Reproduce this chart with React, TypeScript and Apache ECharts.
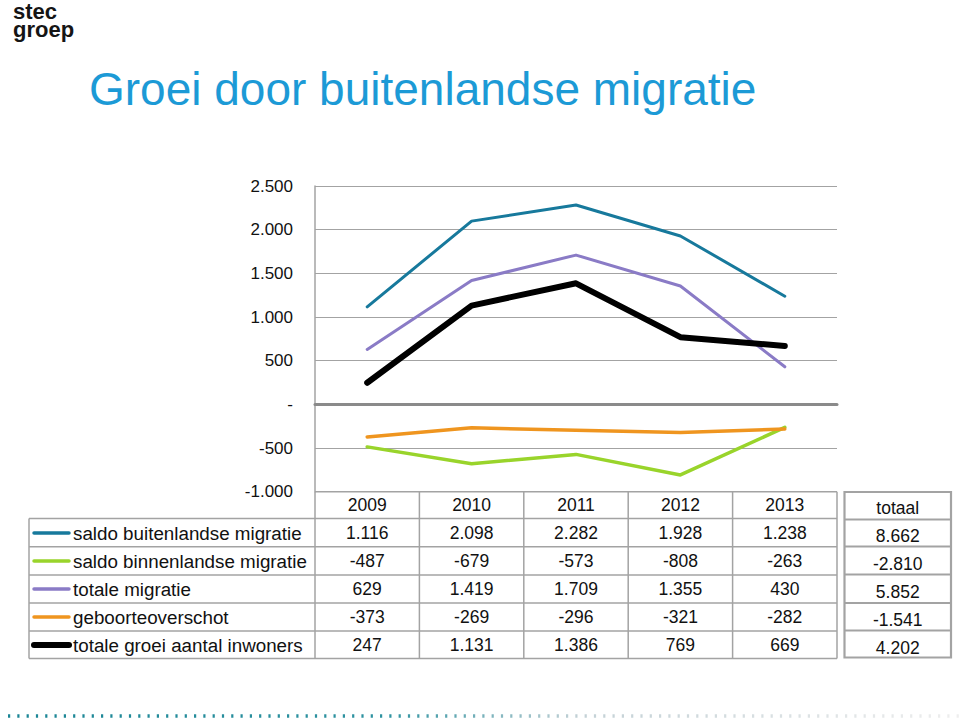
import React, { useEffect, useRef } from "react";
import * as echarts from "echarts";

const years = ["2009", "2010", "2011", "2012", "2013"];
const seriesNames = [
  "saldo buitenlandse migratie",
  "saldo binnenlandse migratie",
  "totale migratie",
  "geboorteoverschot",
  "totale groei aantal inwoners",
];
const buitenlands = [1116, 2098, 2282, 1928, 1238];
const binnenlands = [-487, -679, -573, -808, -263];
const totaleMigratie = [629, 1419, 1709, 1355, 430];
const geboorte = [-373, -269, -296, -321, -282];
const totaleGroei = [247, 1131, 1386, 769, 669];
const totalen = [8662, -2810, 5852, -1541, 4202];
const totaalLabel = "totaal";
const title = "Groei door buitenlandse migratie";
const logoLines = ["stec", "groep"];

const yMin = -1000;
const yMax = 2500;
const yInterval = 500;

const colors = ["#17799c", "#99d42b", "#8a7bc6", "#ef951f", "#000000"];
const widths = [3, 3.5, 3, 3.5, 6];

function fmt(v: number): string {
  if (v === 0) return "-";
  const sign = v < 0 ? "-" : "";
  const s = String(Math.abs(v));
  return sign + s.replace(/\B(?=(\d{3})+(?!\d))/g, ".");
}

const FONT = "'Liberation Sans', Arial, Helvetica, sans-serif";

export default function App() {
  const ref = useRef<HTMLDivElement>(null);
  useEffect(() => {
    if (!ref.current) return;
    const chart = echarts.init(ref.current, undefined, { renderer: "svg" });
    const data = [buitenlands, binnenlands, totaleMigratie, geboorte, totaleGroei];

    const plotLeft = 315;
    const plotRight = 837;
    const plotTop = 186;
    const plotBottom = 491.7;
    const colW = (plotRight - plotLeft) / years.length;

    const rowLines = [518.5, 546.7, 575, 603, 631, 658.5];
    const rowCenters = [533, 561, 589, 617, 645];
    const headerCenter = 505;
    const grid = "#a3a3a3";

    const g: any[] = [];
    // logo
    logoLines.forEach((t, i) => {
      g.push({
        type: "text", x: 13, y: 11.2 + i * 17.8,
        style: { text: t, font: `bold 22px ${FONT}`, lineHeight: 17, fill: "#151515", align: "left", verticalAlign: "middle" },
      });
    });
    // title
    g.push({
      type: "text", x: 89, y: 89,
      style: { text: title, fontFamily: FONT, fontSize: 46, fill: "#1c9ad6", verticalAlign: "middle", align: "left" },
    });

    const line = (x1: number, y1: number, x2: number, y2: number, w = 1.5, c = grid) => ({
      type: "line", shape: { x1, y1, x2, y2 }, style: { stroke: c, lineWidth: w }, silent: true,
    });
    g.push(line(plotLeft, plotBottom, plotRight, plotBottom));
    for (let i = 0; i < rowLines.length; i++) g.push(line(29, rowLines[i], plotRight, rowLines[i]));
    g.push(line(29, rowLines[0], 29, rowLines[rowLines.length - 1]));
    for (let k = 0; k <= years.length; k++) {
      const x = plotLeft + k * colW;
      g.push(line(x, plotBottom, x, rowLines[rowLines.length - 1]));
    }
    years.forEach((y, k) => {
      g.push({
        type: "text", x: plotLeft + (k + 0.5) * colW, y: headerCenter,
        style: { text: y, fontFamily: FONT, fontSize: 17.5, fill: "#111", align: "center", verticalAlign: "middle" },
      });
    });
    seriesNames.forEach((name, i) => {
      const cy = rowCenters[i];
      g.push({
        type: "line", shape: { x1: 34, y1: cy, x2: 69, y2: cy },
        style: { stroke: colors[i], lineWidth: i === 4 ? 6 : 3.5, lineCap: "round" },
      });
      g.push({
        type: "text", x: 73, y: cy,
        style: { text: name, fontFamily: FONT, fontSize: 18.8, fill: "#111", align: "left", verticalAlign: "middle" },
      });
      data[i].forEach((v, k) => {
        g.push({
          type: "text", x: plotLeft + (k + 0.5) * colW, y: cy,
          style: { text: fmt(v), fontFamily: FONT, fontSize: 17.5, fill: "#111", align: "center", verticalAlign: "middle" },
        });
      });
    });
    // totaal table
    const tL = 844.5, tR = 951;
    const tLines = [492, 519.5, 546.5, 574.5, 603, 630.5, 657.5];
    g.push({
      type: "rect", shape: { x: tL, y: tLines[0], width: tR - tL, height: tLines[6] - tLines[0] },
      style: { fill: "none", stroke: grid, lineWidth: 2.2 },
    });
    for (let i = 1; i < tLines.length - 1; i++) g.push(line(tL, tLines[i], tR, tLines[i], 2));
    g.push({
      type: "text", x: (tL + tR) / 2, y: 508,
      style: { text: totaalLabel, fontFamily: FONT, fontSize: 17.5, fill: "#111", align: "center", verticalAlign: "middle" },
    });
    totalen.forEach((v, i) => {
      g.push({
        type: "text", x: (tL + tR) / 2, y: rowCenters[i] + 2.5,
        style: { text: fmt(v), fontFamily: FONT, fontSize: 17.5, fill: "#111", align: "center", verticalAlign: "middle" },
      });
    });
    // bottom dotted line
    g.push({
      type: "line", shape: { x1: 8, y1: 716, x2: 960, y2: 716 },
      style: {
        stroke: new echarts.graphic.LinearGradient(8, 0, 960, 0, [
          { offset: 0, color: "#1a8595" },
          { offset: 0.4, color: "#2f93a1" },
          { offset: 0.6, color: "#c3d1d6" },
          { offset: 1, color: "#eeeeee" },
        ], true),
        lineWidth: 3.5, lineDash: [2.2, 7.1],
      },
    });

    chart.setOption({
      animation: false,
      grid: { left: plotLeft, right: 960 - plotRight, top: plotTop, bottom: 722 - plotBottom },
      xAxis: {
        type: "category", data: years, boundaryGap: true,
        axisLine: { show: true, onZero: true, lineStyle: { color: "#8a8a8a", width: 3 } },
        axisTick: { show: false }, axisLabel: { show: false }, splitLine: { show: false },
      },
      yAxis: {
        type: "value", min: yMin, max: yMax, interval: yInterval,
        axisLine: { show: true, lineStyle: { color: grid, width: 1.5 } },
        axisTick: { show: false },
        axisLabel: { margin: 22, fontFamily: FONT, fontSize: 17, color: "#111", formatter: (v: number) => fmt(v) },
        splitLine: { show: true, lineStyle: { color: grid, width: 1.2 } },
      },
      series: seriesNames.map((n, i) => ({
        name: n, type: "line", data: data[i], symbol: "none", silent: true,
        lineStyle: { color: colors[i], width: widths[i], cap: "round", join: "round" },
        z: 2 + i,
      })),
      graphic: g,
    });
    return () => chart.dispose();
  }, []);
  return <div ref={ref} style={{ position: "absolute", left: 0, top: 0, width: 960, height: 722 }} />;
}
